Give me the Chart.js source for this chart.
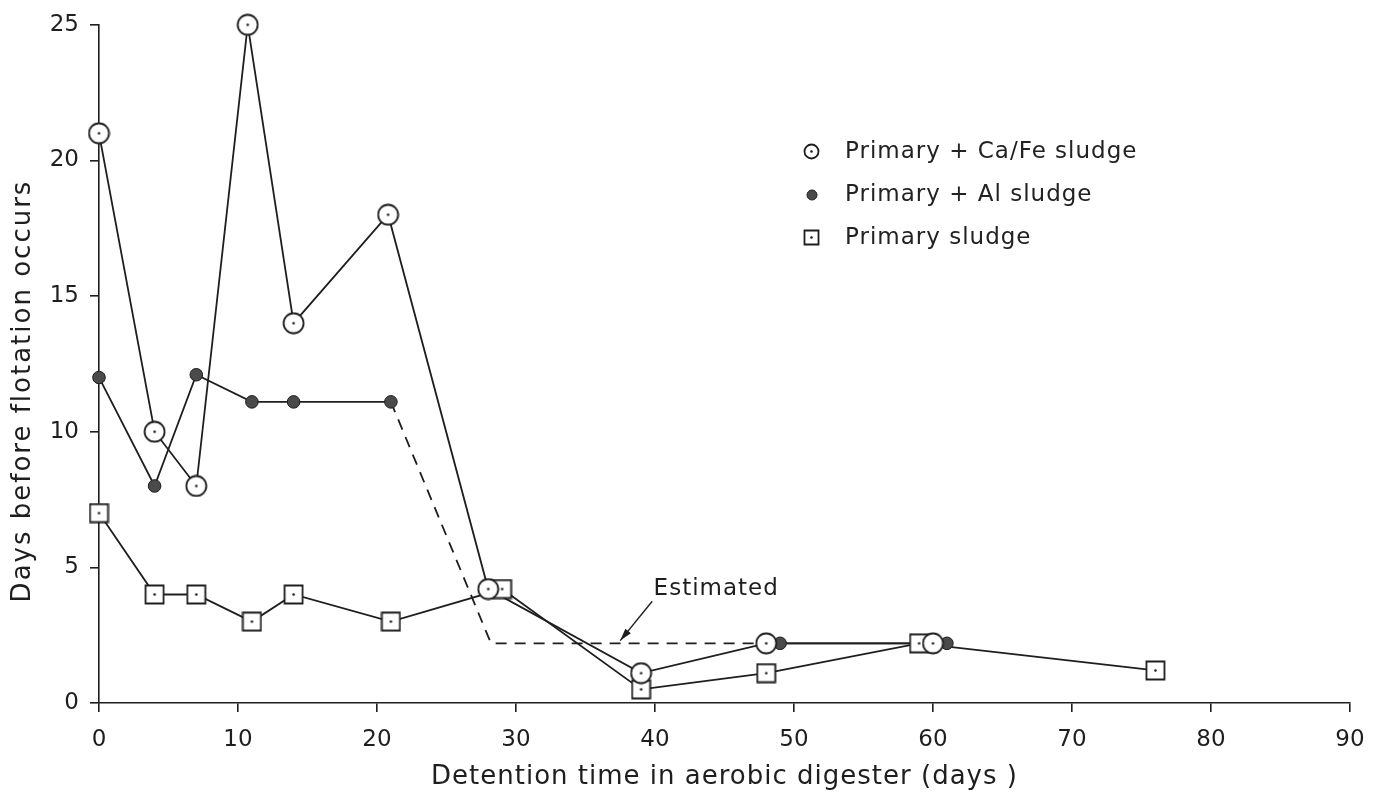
<!DOCTYPE html>
<html>
<head>
<meta charset="utf-8">
<script src="https://cdn.jsdelivr.net/npm/chart.js@4.4.1/dist/chart.umd.min.js"></script>
<style>
    html, body { margin: 0; padding: 0; background: #fff; }
    #wrap { position: relative; width: 1380px; height: 798px; }
    #legend { position: absolute; left: 0; top: 0; font-family: "DejaVu Sans", sans-serif; font-size: 23px; color: #222; letter-spacing: 1px; }
    .legend-row { position: absolute; left: 803px; height: 24px; white-space: nowrap; }
    .legend-row canvas { position: absolute; left: 0; top: 3px; }
    .legend-row span { position: absolute; left: 42px; top: -3px; }
</style>
</head>
<body>
<div id="wrap">
    <canvas id="flotationChart" width="1380" height="798"></canvas>
    <div id="legend"></div>
</div>
<script>
// values
var caFeX = [0, 4, 7, 10.7, 14, 20.8, 28, 39, 48, 60];
var caFeY = [21, 10, 8, 25, 14, 18, 4.2, 1.1, 2.2, 2.2];

// null breaks the solid Al line where the estimated part takes over
var alX = [0, 4, 7, 11, 14, 21, 35, 49, 61];
var alY = [12, 8, 12.1, 11.1, 11.1, 11.1, null, 2.2, 2.2];

var estimatedX = [21, 28.2, 49];
var estimatedY = [11.1, 2.2, 2.2];

var primaryX = [0, 4, 7, 11, 14, 21, 29, 39, 48, 59, 76];
var primaryY = [7, 4, 4, 3, 4, 3, 4.2, 0.5, 1.1, 2.2, 1.2];

var seriesNames = ['Primary + Ca/Fe sludge', 'Primary + Al sludge', 'Primary sludge'];
var estimatedLabel = 'Estimated';
var xTitle = 'Detention time in aerobic digester (days )';
var yTitle = 'Days before flotation occurs';

var xMin = 0, xMax = 90, xStep = 10;
var yMin = 0, yMax = 25, yStep = 5;

// where the "Estimated" note sits, in data units
var noteAt = { x: 39.9, y: 4.2 };
var arrowFrom = { x: 39.8, y: 3.75 };
var arrowTo = { x: 37.5, y: 2.3 };

var ink = '#1e1e1e';

function toPoints(xs, ys) {
    return xs.map((x, i) => ({ x: x, y: ys[i] }));
}

function makeMarker(kind, size) {
    var c = document.createElement('canvas');
    c.width = size;
    c.height = size;
    var g = c.getContext('2d');
    var m = size / 2;
    g.lineWidth = 1.8;
    g.strokeStyle = ink;
    g.fillStyle = '#fff';
    if (kind === 'circle') {
        g.beginPath();
        g.arc(m, m, m - 1.5, 0, Math.PI * 2);
        g.fill();
        g.stroke();
    } else if (kind === 'square') {
        g.beginPath();
        g.rect(1.5, 1.5, size - 3, size - 3);
        g.fill();
        g.stroke();
    } else {
        g.beginPath();
        g.arc(m, m, m - 1, 0, Math.PI * 2);
        g.fillStyle = '#4a4a4a';
        g.fill();
        g.lineWidth = 1;
        g.stroke();
        return c;
    }
    g.beginPath();
    g.arc(m, m, 1.3, 0, Math.PI * 2);
    g.fillStyle = ink;
    g.fill();
    return c;
}

var circleMark = makeMarker('circle', 23);
var squareMark = makeMarker('square', 21);

function pointSet(label, xs, ys, style, radius) {
    return {
        label: label,
        data: toPoints(xs, ys),
        showLine: false,
        pointStyle: style,
        pointRadius: radius,
        pointBackgroundColor: '#4a4a4a',
        pointBorderColor: ink,
        pointBorderWidth: 1,
        clip: false
    };
}

function lineSet(label, xs, ys, dash) {
    return {
        label: label,
        data: toPoints(xs, ys),
        showLine: true,
        spanGaps: false,
        borderColor: ink,
        borderWidth: 1.8,
        borderDash: dash || [],
        pointRadius: 0,
        clip: false
    };
}

// first dataset is drawn on top, so markers go first and lines last
var datasets = [
    pointSet(seriesNames[0], caFeX, caFeY, circleMark, 11),
    pointSet(seriesNames[1], alX, alY, 'circle', 6.3),
    pointSet(seriesNames[2], primaryX, primaryY, squareMark, 10),
    lineSet('caFe line', caFeX, caFeY),
    lineSet('al line', alX, alY),
    lineSet('estimated', estimatedX, estimatedY, [11, 8]),
    lineSet('primary line', primaryX, primaryY)
];

var extrasPlugin = {
    id: 'extras',
    afterDraw: function (chart) {
        var ctx = chart.ctx;
        var xs = chart.scales.x, ys = chart.scales.y;
        ctx.save();
        ctx.fillStyle = ink;
        ctx.strokeStyle = ink;

        // Estimated note with arrow
        ctx.font = '23px "DejaVu Sans"';
        ctx.letterSpacing = '1px';
        ctx.textAlign = 'left';
        ctx.textBaseline = 'middle';
        ctx.fillText(estimatedLabel, xs.getPixelForValue(noteAt.x), ys.getPixelForValue(noteAt.y));

        var ax = xs.getPixelForValue(arrowFrom.x), ay = ys.getPixelForValue(arrowFrom.y);
        var bx = xs.getPixelForValue(arrowTo.x), by = ys.getPixelForValue(arrowTo.y);
        ctx.lineWidth = 1.4;
        ctx.beginPath();
        ctx.moveTo(ax, ay);
        ctx.lineTo(bx, by);
        ctx.stroke();
        var ang = Math.atan2(by - ay, bx - ax);
        ctx.beginPath();
        ctx.moveTo(bx, by);
        ctx.lineTo(bx - 13 * Math.cos(ang - 0.28), by - 13 * Math.sin(ang - 0.28));
        ctx.lineTo(bx - 13 * Math.cos(ang + 0.28), by - 13 * Math.sin(ang + 0.28));
        ctx.closePath();
        ctx.fill();

        // axis titles
        ctx.font = '26px "DejaVu Sans"';
        ctx.letterSpacing = '1px';
        ctx.textAlign = 'center';
        ctx.fillText(xTitle, (xs.left + xs.right) / 2, 777);

        ctx.letterSpacing = '2px';
        ctx.translate(23, 391);
        ctx.rotate(-Math.PI / 2);
        ctx.fillText(yTitle, 0, 0);
        ctx.restore();
    }
};

var tickFont = { family: 'DejaVu Sans', size: 23 };

var chart = new Chart(document.getElementById('flotationChart').getContext('2d'), {
    type: 'scatter',
    data: { datasets: datasets },
    options: {
        responsive: false,
        animation: false,
        events: [],
        layout: { padding: { left: 0, top: 20, right: 30, bottom: 0 } },
        plugins: {
            legend: { display: false },
            tooltip: { enabled: false }
        },
        scales: {
            x: {
                type: 'linear',
                min: xMin,
                max: xMax,
                afterFit: function (scale) { scale.height = 95; },
                border: { color: ink, width: 1.6 },
                grid: { drawOnChartArea: false, drawTicks: true, tickLength: 9, color: ink, lineWidth: 1.6 },
                ticks: { stepSize: xStep, autoSkip: false, maxRotation: 0, padding: 14, color: ink, font: tickFont }
            },
            y: {
                type: 'linear',
                min: yMin,
                max: yMax,
                afterFit: function (scale) { scale.width = 99; },
                border: { color: ink, width: 1.6 },
                grid: { drawOnChartArea: false, drawTicks: true, tickLength: 9, color: ink, lineWidth: 1.6 },
                ticks: { stepSize: yStep, padding: 11, color: ink, font: tickFont }
            }
        }
    },
    plugins: [extrasPlugin]
});

// legend, built from the same names and markers
var legendBox = document.getElementById('legend');
var legendMarks = [makeMarker('circle', 17), makeMarker('dot', 12), makeMarker('square', 17)];
seriesNames.forEach((name, i) => {
    var row = document.createElement('div');
    row.className = 'legend-row';
    row.style.top = (140 + 43 * i) + 'px';
    var mark = legendMarks[i];
    if (i === 1) {
        mark.style.left = '3px';
        mark.style.top = '6px';
    }
    row.appendChild(mark);
    var text = document.createElement('span');
    text.textContent = name;
    row.appendChild(text);
    legendBox.appendChild(row);
});
</script>
</body>
</html>
